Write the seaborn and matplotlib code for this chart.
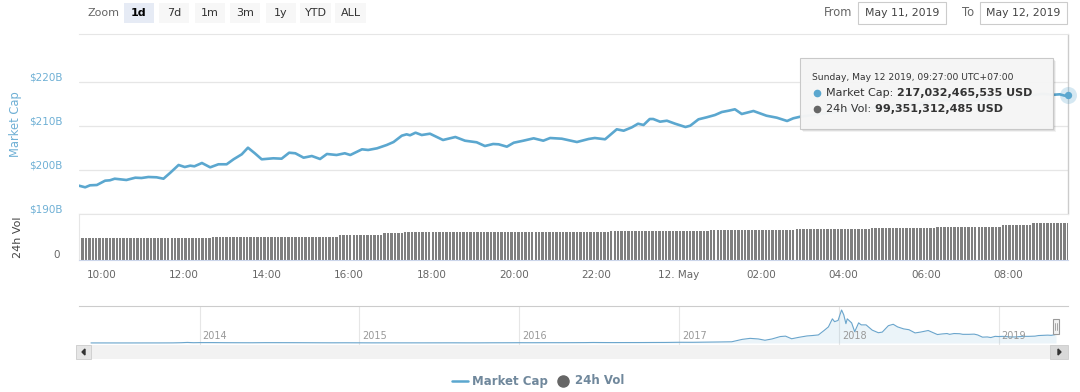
import numpy as np
import pandas as pd
import matplotlib
matplotlib.use('Agg')
import matplotlib.pyplot as plt
import seaborn as sns
from matplotlib.patches import Rectangle, Polygon
from matplotlib.lines import Line2D
from matplotlib.transforms import ScaledTranslation, blended_transform_factory

# ---- data ----
# total market cap (billions USD), 11 May 09:27 -> 12 May 09:27 (UTC+7)
cap_times = ["09:27", "09:36", "09:43", "09:53", "10:05", "10:12", "10:19", "10:36", "10:49", "10:58",
             "11:08", "11:20", "11:30", "11:40", "11:52", "12:01", "12:09", "12:15", "12:26", "12:38",
             "12:50", "13:02", "13:12", "13:24", "13:33", "13:43", "13:53", "14:10", "14:22", "14:33",
             "14:42", "14:54", "15:06", "15:18", "15:28", "15:42", "15:54", "16:02", "16:19", "16:28",
             "16:41", "16:55", "17:05", "17:17", "17:24", "17:29", "17:37", "17:46", "17:58", "18:17",
             "18:35", "18:49", "19:06", "19:18", "19:30", "19:38", "19:50", "20:00", "20:14", "20:29",
             "20:43", "20:53", "21:10", "21:32", "21:49", "21:58", "22:13", "22:30", "22:40", "22:52",
             "23:01", "23:09", "23:18", "23:23", "23:33", "23:43", "23:55", "00:10", "00:17", "00:29",
             "00:41", "00:53", "01:03", "01:13", "01:22", "01:32", "01:49", "02:08", "02:23", "02:38",
             "02:47", "02:57", "03:30", "04:00", "04:30", "05:00", "05:30", "06:00", "06:30", "07:00",
             "07:30", "08:00", "08:30", "08:50", "09:06", "09:15", "09:22", "09:27"]
cap_values = [196.43, 196.07, 196.52, 196.59, 197.57, 197.66, 198.02, 197.73, 198.25, 198.18,
              198.41, 198.34, 198.02, 199.39, 201.14, 200.68, 200.98, 200.84, 201.59, 200.61,
              201.30, 201.30, 202.43, 203.57, 205.07, 203.80, 202.43, 202.66, 202.57, 203.93,
              203.80, 202.80, 203.18, 202.50, 203.64, 203.41, 203.80, 203.41, 204.70, 204.55,
              204.93, 205.68, 206.36, 207.80, 208.11, 207.89, 208.48, 207.95, 208.25, 206.82,
              207.50, 206.66, 206.30, 205.45, 205.91, 205.84, 205.30, 206.20, 206.66, 207.20,
              206.66, 207.27, 207.11, 206.36, 207.05, 207.27, 206.98, 209.25, 208.93, 209.70,
              210.52, 210.23, 211.59, 211.59, 210.98, 211.20, 210.52, 209.77, 210.07, 211.52,
              211.98, 212.50, 213.18, 213.48, 213.80, 212.73, 213.41, 212.34, 211.89, 211.14,
              211.75, 212.11, 212.80, 213.50, 214.20, 214.00, 214.80, 215.30, 215.90, 215.60,
              216.20, 216.60, 216.90, 217.30, 217.10, 217.20, 216.90, 217.03]

# 24h volume (billions USD), one bar every 5 minutes from 09:27
vol_values = [
    58.7, 58.7, 58.7, 58.7, 58.7, 58.7, 58.7, 58.7, 58.7, 58.7, 58.7, 58.7,
    58.7, 58.7, 58.7, 58.7, 58.7, 58.7, 58.7, 58.7, 58.7, 58.7, 58.7, 58.7,
    58.7, 58.7, 58.7, 58.7, 58.7, 58.7, 58.7, 58.7, 58.7, 58.7, 58.7, 58.7,
    58.7, 58.7, 58.7, 61.4, 61.4, 61.4, 61.4, 61.4, 61.4, 61.4, 61.4, 61.4,
    61.4, 63.2, 63.2, 63.2, 63.2, 63.2, 63.2, 63.2, 63.2, 63.2, 63.2, 63.2,
    63.2, 63.2, 63.2, 63.2, 63.2, 63.2, 63.2, 63.2, 63.2, 63.2, 63.2, 63.2,
    63.2, 63.2, 63.2, 63.2, 67.7, 67.7, 67.7, 67.7, 67.7, 67.7, 67.7, 67.7,
    67.7, 67.7, 67.7, 67.7, 67.7, 72.2, 72.2, 72.2, 72.2, 72.2, 72.2, 74.9,
    74.9, 74.9, 74.9, 74.9, 74.9, 74.9, 74.9, 74.9, 74.9, 74.9, 74.9, 74.9,
    74.9, 74.9, 74.9, 74.9, 74.9, 74.9, 74.9, 74.9, 74.9, 74.9, 74.9, 74.9,
    76.7, 76.7, 76.7, 76.7, 76.7, 76.7, 76.7, 76.7, 76.7, 76.7, 76.7, 76.7,
    76.7, 76.7, 76.7, 76.7, 76.7, 76.7, 76.7, 76.7, 76.7, 76.7, 76.7, 76.7,
    76.7, 76.7, 76.7, 76.7, 76.7, 76.7, 76.7, 76.7, 76.7, 76.7, 76.7, 79.4,
    79.4, 79.4, 79.4, 79.4, 79.4, 79.4, 79.4, 77.6, 77.6, 77.6, 79.4, 79.4,
    79.4, 79.4, 79.4, 79.4, 79.4, 79.4, 79.4, 79.4, 79.4, 79.4, 79.4, 79.4,
    79.4, 79.4, 79.4, 79.4, 81.2, 81.2, 81.2, 81.2, 81.2, 81.2, 81.2, 81.2,
    81.2, 81.2, 81.2, 81.2, 81.2, 81.2, 81.2, 81.2, 81.2, 81.2, 81.2, 81.2,
    81.2, 81.2, 81.2, 81.2, 81.2, 83.9, 83.9, 83.9, 83.9, 83.9, 83.9, 83.9,
    83.9, 83.9, 83.9, 83.9, 83.9, 83.9, 83.9, 83.9, 83.9, 83.9, 83.9, 83.9,
    83.9, 83.9, 83.9, 85.7, 85.7, 85.7, 85.7, 85.7, 85.7, 85.7, 85.7, 87.5,
    87.5, 87.5, 87.5, 87.5, 87.5, 87.5, 87.5, 87.5, 87.5, 87.5, 90.2, 90.2,
    90.2, 90.2, 90.2, 90.2, 90.2, 90.2, 90.2, 90.2, 90.2, 90.2, 90.2, 90.2,
    90.2, 90.2, 90.2, 90.2, 90.2, 94.7, 94.7, 94.7, 94.7, 94.7, 94.7, 94.7,
    94.7, 94.7, 99.35, 99.35, 99.35, 99.35, 99.35, 99.35, 99.35, 99.35, 99.35, 99.35,
    99.35,
]

# navigator: whole history of total market cap (billions USD)
nav_dates = ["2013-04-28", "2013-06-01", "2013-07-01", "2013-08-01", "2013-09-01", "2013-10-01",
             "2013-11-01", "2013-11-20", "2013-12-04", "2013-12-18", "2014-01-01", "2014-02-01",
             "2014-03-01", "2014-04-01", "2014-05-01", "2014-06-01", "2014-07-01", "2014-08-01",
             "2014-09-01", "2014-10-01", "2014-11-01", "2014-12-01", "2015-01-01", "2015-02-01",
             "2015-03-01", "2015-04-01", "2015-05-01", "2015-06-01", "2015-07-01", "2015-08-01",
             "2015-09-01", "2015-10-01", "2015-11-01", "2015-12-01", "2016-01-01", "2016-02-01",
             "2016-03-01", "2016-04-01", "2016-05-01", "2016-06-01", "2016-06-18", "2016-07-01",
             "2016-08-01", "2016-09-01", "2016-10-01", "2016-11-01", "2016-12-01", "2017-01-01",
             "2017-02-01", "2017-03-01", "2017-04-01", "2017-05-01", "2017-05-25", "2017-06-12",
             "2017-07-01", "2017-07-16", "2017-08-01", "2017-08-20", "2017-09-01", "2017-09-15",
             "2017-10-01", "2017-10-20", "2017-11-01", "2017-11-15", "2017-11-28", "2017-12-08",
             "2017-12-17", "2017-12-22", "2017-12-30", "2018-01-07", "2018-01-12", "2018-01-17",
             "2018-01-20", "2018-01-30", "2018-02-06", "2018-02-15", "2018-02-21", "2018-03-04",
             "2018-03-18", "2018-04-01", "2018-04-10", "2018-04-24", "2018-05-05", "2018-05-15",
             "2018-05-29", "2018-06-10", "2018-06-24", "2018-07-06", "2018-07-24", "2018-08-14",
             "2018-08-25", "2018-09-05", "2018-09-11", "2018-09-21", "2018-10-04", "2018-10-11",
             "2018-10-25", "2018-11-06", "2018-11-14", "2018-11-25", "2018-12-06", "2018-12-14",
             "2018-12-24", "2019-01-01", "2019-01-10", "2019-01-29", "2019-02-08", "2019-02-24",
             "2019-03-10", "2019-03-25", "2019-04-02", "2019-04-23", "2019-05-01", "2019-05-09",
             "2019-05-12"]
nav_values = [1.5, 1.3, 1.0, 1.2, 1.6, 1.8,
              2.8, 7.0, 14.0, 7.5, 10.0, 10.0,
              7.5, 6.5, 5.8, 8.5, 8.3, 7.8,
              6.7, 5.3, 4.5, 5.3, 4.3, 3.2,
              3.6, 3.4, 3.3, 3.4, 3.8, 4.3,
              3.4, 3.6, 5.2, 5.8, 7.0, 6.5,
              7.5, 7.4, 8.2, 9.9, 12.5, 11.5,
              10.0, 10.7, 11.0, 12.6, 13.5, 17.7,
              17.0, 21.0, 25.0, 30.0, 90.0, 115.0,
              100.0, 68.0, 100.0, 160.0, 170.0, 105.0,
              140.0, 175.0, 185.0, 200.0, 310.0, 400.0,
              600.0, 530.0, 560.0, 820.0, 700.0, 480.0,
              600.0, 500.0, 280.0, 500.0, 450.0, 450.0,
              320.0, 255.0, 270.0, 430.0, 465.0, 400.0,
              350.0, 330.0, 250.0, 270.0, 310.0, 210.0,
              225.0, 235.0, 215.0, 235.0, 230.0, 215.0,
              215.0, 220.0, 200.0, 145.0, 150.0, 135.0,
              165.0, 160.0, 165.0, 150.0, 150.0, 165.0,
              165.0, 170.0, 185.0, 195.0, 190.0, 205.0,
              217.0]

cap_ticks = [190, 200, 210, 220]
cap_tick_labels = ["$190B", "$200B", "$210B", "$220B"]
time_tick_labels = ["10:00", "12:00", "14:00", "16:00", "18:00", "20:00",
                    "22:00", "12. May", "02:00", "04:00", "06:00", "08:00"]
year_labels = ["2014", "2015", "2016", "2017", "2018", "2019"]

# ---- prepare ----
cap_dt = []
day = pd.Timestamp("2019-05-11")
prev = None
for t in cap_times:
    if prev is not None and t < prev:
        day = day + pd.Timedelta(days=1)
    cap_dt.append(pd.Timestamp(f"{day.date()} {t}"))
    prev = t
cap_df = pd.DataFrame({"time": cap_dt, "cap": cap_values})

t0 = pd.Timestamp("2019-05-11 09:27")
t1 = pd.Timestamp("2019-05-12 09:27")
vol_times = pd.date_range(t0, periods=len(vol_values), freq="5min")
tick_times = pd.date_range("2019-05-11 10:00", periods=len(time_tick_labels), freq="2h")
nav_df = pd.DataFrame({"date": pd.to_datetime(nav_dates), "cap": nav_values})

LINE = '#5ba7cf'
BAR = '#7f7f7f'
GRID = '#e6e6e6'
BLUE_TXT = '#6fb0d5'
GRAY_TXT = '#666666'
LEG_TXT = '#70889c'

sns.set_style('white')
plt.rcParams['font.family'] = ['DejaVu Sans']

W, H = 1080, 392
fig = plt.figure(figsize=(W / 100, H / 100), dpi=100)


def px_axes(x0, y0, x1, y1):
    return fig.add_axes([x0 / W, 1 - y1 / H, (x1 - x0) / W, (y1 - y0) / H])


def add_rect(x0, y0, x1, y1, **kw):
    r = Rectangle((x0 / W, 1 - y1 / H), (x1 - x0) / W, (y1 - y0) / H,
                  transform=fig.transFigure, **kw)
    fig.add_artist(r)
    return r


def ftext(x, y, s, **kw):
    return fig.text(x / W, 1 - y / H, s, **kw)


up = lambda px: ScaledTranslation(0, px / 100, fig.dpi_scale_trans)

# ---- main market cap panel ----
ax = px_axes(79, 34, 1068, 214)
sns.lineplot(data=cap_df, x="time", y="cap", ax=ax, color=LINE, linewidth=1.9)
ax.set_xlim(t0, t1)
ax.set_ylim(190, 190 + 180 / 4.4)
ax.set_yticks(cap_ticks)
ax.set_yticklabels(cap_tick_labels, color=BLUE_TXT, fontsize=7.5)
ax.tick_params(axis='y', length=0, pad=12)
ax.set_xticks([])
ax.grid(axis='y', color=GRID, lw=0.9)
ax.set_axisbelow(True)
for s in ['left', 'right', 'bottom']:
    ax.spines[s].set_visible(False)
ax.spines['top'].set_color(GRID)
ax.set_xlabel('')
ax.set_ylabel('')
for lab in ax.get_yticklabels():
    lab.set_transform(lab.get_transform() + up(5))

# crosshair and hovered point
ax.axvline(t1, color='#cccccc', lw=1, clip_on=False, zorder=1)
ax.scatter([cap_dt[-1]], [cap_values[-1]], s=150, color=LINE, alpha=0.25, lw=0,
           clip_on=False, zorder=4)
ax.scatter([cap_dt[-1]], [cap_values[-1]], s=28, color=LINE, lw=0, clip_on=False, zorder=5)

ftext(15, 124, "Market Cap", rotation=90, color=BLUE_TXT, fontsize=8.3, ha='center', va='center')

# ---- volume panel ----
axv = px_axes(79, 214, 1068, 260)
axv.bar(vol_times, vol_values, width=3.5 / 1440, color=BAR, linewidth=0)
axv.set_xlim(t0, t1)
axv.set_ylim(0, 124.5)
axv.set_yticks([0])
axv.set_yticklabels(["0"], color=GRAY_TXT, fontsize=7.5)
axv.tick_params(axis='y', length=0, pad=14)
for lab in axv.get_yticklabels():
    lab.set_transform(lab.get_transform() + up(6))
axv.set_xticks(tick_times)
axv.set_xticklabels(time_tick_labels)
axv.tick_params(axis='x', length=5.5, width=0.8, color='#ccd6eb', pad=1.5,
                labelsize=7.5, labelcolor=GRAY_TXT)
axv.spines['right'].set_visible(False)
axv.spines['top'].set_color(GRID)
axv.spines['left'].set_color(GRID)
axv.spines['bottom'].set_color('#ccd6eb')
ftext(18, 237, "24h Vol", rotation=90, color='#444444', fontsize=8, ha='center', va='center')

# ---- navigator ----
axn = px_axes(79, 306, 1068, 345)
sns.lineplot(data=nav_df, x="date", y="cap", ax=axn, color='#6aa5cc', linewidth=0.8)
axn.fill_between(nav_df["date"], nav_df["cap"], 0, color=LINE, alpha=0.12, lw=0)
pad_days = pd.Timedelta(days=27.4)
axn.set_xlim(nav_df["date"].iloc[0] - pad_days, nav_df["date"].iloc[-1] + pad_days)
axn.set_ylim(-50, 919)
axn.set_xticks([])
axn.set_yticks([])
axn.set_xlabel('')
axn.set_ylabel('')
for s in ['left', 'right', 'bottom']:
    axn.spines[s].set_visible(False)
axn.spines['top'].set_color('#cccccc')
trans = blended_transform_factory(axn.transData, axn.transAxes)
for yl in year_labels:
    d = pd.Timestamp(f"{yl}-01-01")
    axn.axvline(d, color=GRID, lw=0.8, zorder=0)
    axn.text(d + pd.Timedelta(days=7), 0.24, yl, transform=trans, color='#999999',
             fontsize=7, ha='left', va='center')

# navigator handle
add_rect(1053, 319, 1059, 334, fc='#f2f2f2', ec='#999999', lw=0.8, zorder=6)
for xh in (1055, 1057):
    fig.add_artist(Line2D([xh / W, xh / W], [1 - 323 / H, 1 - 330 / H],
                          transform=fig.transFigure, color='#999999', lw=0.6, zorder=7))

# scrollbar
add_rect(76, 345, 1068, 359, fc='#f2f2f2', ec='none', zorder=2)
add_rect(76, 345, 91, 359, fc='#e6e6e6', ec='#cccccc', lw=0.6, zorder=3)
add_rect(1050, 345, 1068, 359, fc='#d9d9d9', ec='#cccccc', lw=0.6, zorder=3)
fig.add_artist(Polygon([(85 / W, 1 - 349 / H), (85 / W, 1 - 355 / H), (82 / W, 1 - 352 / H)],
                       closed=True, transform=fig.transFigure, color='#333333', zorder=4))
fig.add_artist(Polygon([(1058 / W, 1 - 349 / H), (1058 / W, 1 - 355 / H), (1061 / W, 1 - 352 / H)],
                       closed=True, transform=fig.transFigure, color='#333333', zorder=4))

# ---- legend ----
fig.add_artist(Line2D([452 / W, 468 / W], [1 - 381 / H, 1 - 381 / H], transform=fig.transFigure,
                      color=LINE, lw=1.8))
ftext(472, 381, "Market Cap", color=LEG_TXT, fontsize=8.5, fontweight='bold', va='center')
fig.add_artist(Line2D([563 / W], [1 - 381 / H], transform=fig.transFigure, marker='o',
                      markersize=8, color='#666666', lw=0))
ftext(575, 381, "24h Vol", color=LEG_TXT, fontsize=8.5, fontweight='bold', va='center')

# ---- range selector toolbar ----
ftext(103, 13, "Zoom", color=GRAY_TXT, fontsize=8, ha='center', va='center')
buttons = [("1d", 124, 154), ("7d", 159, 189), ("1m", 195, 225), ("3m", 230, 260),
           ("1y", 266, 296), ("YTD", 300, 331), ("ALL", 335, 366)]
for i, (lab, bx0, bx1) in enumerate(buttons):
    sel = i == 0
    add_rect(bx0, 3, bx1, 23, fc='#e6ebf5' if sel else '#f7f7f7', ec='none', zorder=1)
    ftext((bx0 + bx1) / 2, 13, lab, color='#000000' if sel else '#333333', fontsize=8,
          fontweight='bold' if sel else 'normal', ha='center', va='center')

ftext(838, 13, "From", color=GRAY_TXT, fontsize=8.3, ha='center', va='center')
add_rect(858, 2, 946, 24, fc='white', ec='#cccccc', lw=0.8)
ftext(902, 13, "May 11, 2019", color='#444444', fontsize=7.8, ha='center', va='center')
ftext(968, 13, "To", color=GRAY_TXT, fontsize=8.3, ha='center', va='center')
add_rect(980, 2, 1067, 24, fc='white', ec='#cccccc', lw=0.8)
ftext(1023.5, 13, "May 12, 2019", color='#444444', fontsize=7.8, ha='center', va='center')

# ---- tooltip ----
for k, a in ((3, 0.05), (2, 0.08), (1, 0.12)):
    add_rect(800 + k, 58 + k, 1053 + k, 129 + k, fc='black', alpha=a, ec='none', zorder=8)
add_rect(800, 58, 1053, 129, fc='#f7f7f7', ec='#c8c8c8', lw=0.8, alpha=0.97, zorder=9)
ftext(812, 78, "Sunday, May 12 2019, 09:27:00 UTC+07:00", color='#333333', fontsize=6.6,
      va='center', zorder=10)
renderer = fig.canvas.get_renderer()
rows = [(93, LINE, "Market Cap:", "217,032,465,535 USD"),
        (109, '#666666', "24h Vol:", "99,351,312,485 USD")]
for ty, col, name, val in rows:
    fig.add_artist(Line2D([817 / W], [1 - ty / H], transform=fig.transFigure, marker='o',
                          markersize=4.5, color=col, lw=0, zorder=10))
    t = ftext(826, ty, name, color='#333333', fontsize=8, va='center', zorder=10)
    bb = t.get_window_extent(renderer)
    fig.text((bb.x1 + 4) / W, 1 - ty / H, val, color='#333333', fontsize=8,
             fontweight='bold', va='center', zorder=10)

fig.savefig('out.png', dpi=100)
